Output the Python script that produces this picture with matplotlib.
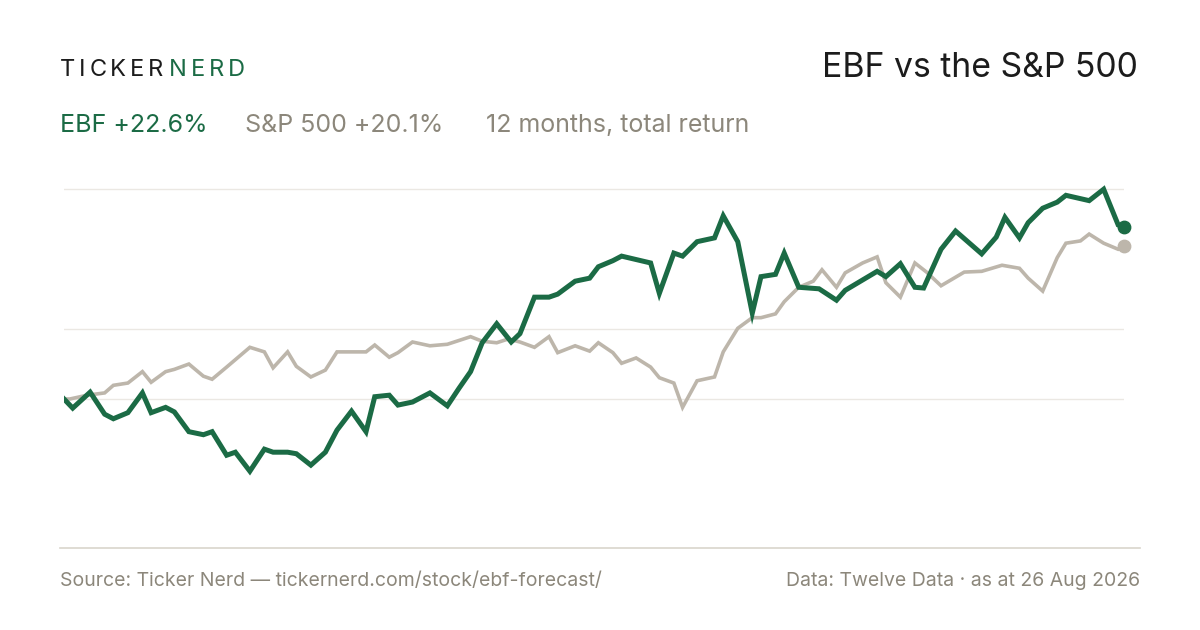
import matplotlib
matplotlib.use("Agg")
from matplotlib import pyplot as plt

# days since start, % total return
ebf_days = [0, 3, 9, 14, 17, 22, 27, 30, 35, 38, 43, 48, 51, 56, 59, 64, 69, 72, 77, 80, 85, 90,
            94, 99, 104, 107, 112, 115, 120, 126, 132, 136, 140, 144, 149, 154, 157, 162, 167, 170,
            176, 181, 184,
            189, 192, 202, 205, 210, 213, 218, 224, 227, 232, 237, 240, 245, 248, 253, 260, 266, 269,
            280, 283, 288, 293, 296, 302, 307, 316, 321, 324, 329, 332, 337, 342, 345, 353, 358, 363, 365]
ebf_ret = [0.0, -1.2, 0.9, -2.0, -2.6, -1.8, 0.8, -1.8, -1.1, -1.7, -4.3, -4.7, -4.3, -7.4, -7.0,
           -9.5, -6.6, -7.0, -7.0, -7.2, -8.7, -7.0, -4.1, -1.6, -4.3, 0.3, 0.5, -0.8, -0.4, 0.8,
           -0.9, 1.4, 3.6, 7.4, 9.9, 7.5, 8.6, 13.4, 13.4, 13.8, 15.5, 15.9, 17.4,
           18.2, 18.8, 17.9, 13.9, 19.2, 18.8, 20.7, 21.2, 24.1, 20.7, 11.3, 16.1, 16.4, 19.2, 14.7,
           14.5, 13.0, 14.3, 16.8, 16.1, 17.8, 14.7, 14.6, 19.7, 22.1, 19.1, 21.3, 23.9, 21.2, 23.2,
           25.1, 25.9, 26.8, 26.1, 27.6, 22.9, 22.6]

spx_days = [0, 2, 8, 14, 17, 22, 27, 30, 35, 38, 43, 48, 51, 56, 64, 69, 72, 77, 80, 85, 90, 94,
            99, 104, 107, 112, 115, 120, 126, 132, 140, 144, 149, 153, 157, 162, 167, 170, 176, 181, 184,
            189, 192, 197, 202, 205, 210, 213, 218, 224, 227, 232, 237, 240, 245, 248, 253, 258, 261,
            266, 269, 275, 280, 283, 288, 293, 297, 302, 310, 316, 323, 329, 332, 337, 342, 345, 350,
            353, 358, 363, 365]
spx_ret = [0.0, 0.0, 0.5, 0.8, 1.8, 2.1, 3.6, 2.2, 3.6, 3.9, 4.6, 3.0, 2.6, 4.2, 6.8, 6.2, 4.1,
           6.2, 4.3, 2.9, 3.8, 6.2, 6.2, 6.2, 7.1, 5.5, 6.1, 7.5, 7.0, 7.2, 8.2, 7.6, 7.4, 7.9, 7.5,
           6.8, 8.2, 6.1, 7.0, 6.3, 7.4,
           6.1, 4.7, 5.4, 4.2, 2.8, 2.1, -1.1, 2.4, 2.9, 6.2, 9.3, 10.7, 10.7, 11.2, 12.8, 14.7, 15.5,
           17.0, 14.7, 16.6, 17.9, 18.7, 15.3, 13.4, 17.9, 16.7, 14.9, 16.7, 16.8, 17.6, 17.2, 15.9,
           14.2, 18.6, 20.5, 20.8, 21.7, 20.5, 19.7, 20.1]

grid_levels = [0, 9.2, 27.6]

GREEN = "#1b6b45"
GREY = "#bdb6ab"
TEXT_GREY = "#8c877b"
DARK = "#1c1c1c"

plt.rcParams['font.family'] = ['Inter', 'DejaVu Sans']

fig = plt.figure(figsize=(12, 6.3), dpi=100)
fig.patch.set_facecolor("white")
W, H = 1200, 630

ax = fig.add_axes([64 / W, 1 - 548 / H, 1060 / W, (548 - 170) / H])
ax.set_xlim(0, 365)
ax.set_ylim((399 - 548) / 7.6, (399 - 170) / 7.6)
for g in grid_levels:
    ax.axhline(g, color="#ebe8e3", lw=1, zorder=0)
ax.plot(spx_days, spx_ret, color=GREY, lw=2.6, solid_joinstyle="miter", zorder=2)
ax.plot(ebf_days, ebf_ret, color=GREEN, lw=3.6, solid_joinstyle="miter", zorder=3)
ax.scatter([spx_days[-1]], [spx_ret[-1]], s=80, color=GREY, zorder=4, clip_on=False)
ax.scatter([ebf_days[-1]], [ebf_ret[-1]], s=80, color=GREEN, zorder=5, clip_on=False)
ax.axis("off")

# bottom rule
fig.add_artist(plt.Line2D([60 / W, 1140 / W], [1 - 548 / H] * 2, color="#d9d5cc", lw=1.2))

# header wordmark, letter-spaced
renderer = fig.canvas.get_renderer()
x = 60
for word, col in [("TICKER", DARK), ("NERD", GREEN)]:
    for ch in word:
        t = fig.text(x / W, 1 - 70 / H, ch, color=col, fontsize=17, va="center", ha="left")
        x += t.get_window_extent(renderer).width + 3.8
    x += 2
fig.text(1138 / W, 1 - 68 / H, "EBF vs the S&P 500", color=DARK, fontsize=24.3, va="center", ha="right")

fig.text(60 / W, 1 - 125 / H, "EBF +22.6%", color=GREEN, fontsize=18, va="center", ha="left")
fig.text(245 / W, 1 - 125 / H, "S&P 500 +20.1%", color=TEXT_GREY, fontsize=18, va="center", ha="left")
fig.text(486 / W, 1 - 125 / H, "12 months, total return", color=TEXT_GREY, fontsize=18, va="center", ha="left")

fig.text(60 / W, 1 - 581 / H, "Source: Ticker Nerd \u2014 tickernerd.com/stock/ebf-forecast/",
         color=TEXT_GREY, fontsize=14, va="center", ha="left")
fig.text(1140 / W, 1 - 581 / H, "Data: Twelve Data \u00b7 as at 26 Aug 2026",
         color=TEXT_GREY, fontsize=14, va="center", ha="right")

fig.savefig("out.png", dpi=100)
